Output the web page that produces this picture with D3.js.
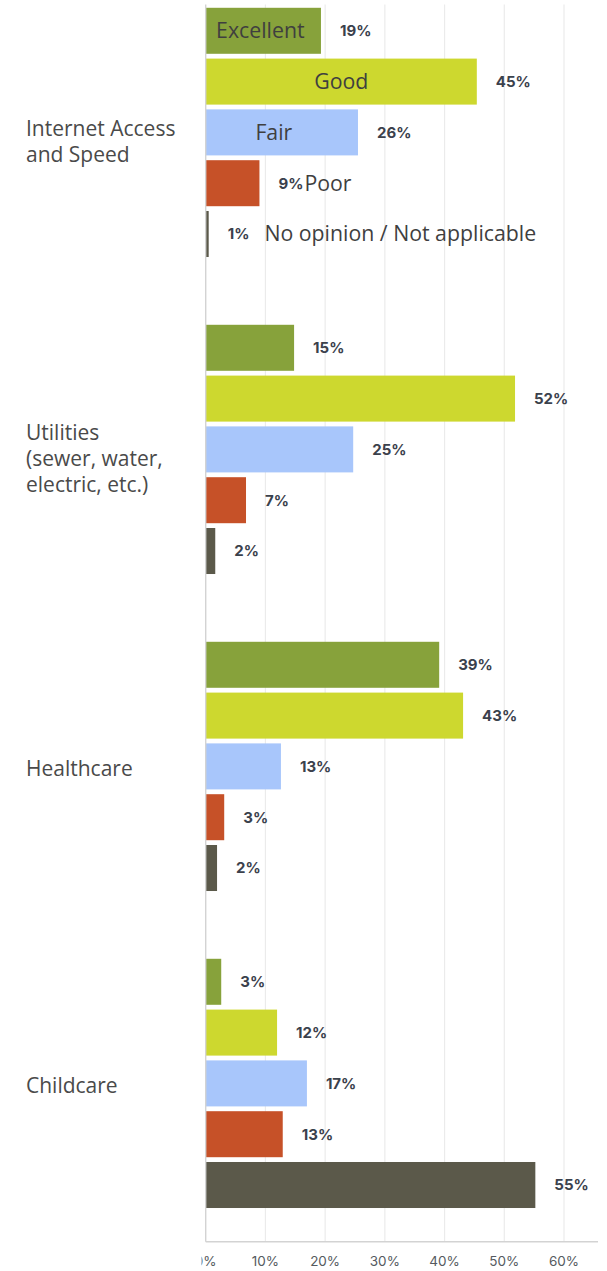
<!DOCTYPE html>
<html>
<head>
<meta charset="utf-8">
<script src="https://cdn.jsdelivr.net/npm/d3@7"></script>
<style>
  html, body { margin: 0; padding: 0; background: #ffffff; }
  svg { display: block; }
</style>
</head>
<body>
<div id="chart"></div>
<script>
// ---- data ----
const categories = ["Internet Access and Speed", "Utilities (sewer, water, electric, etc.)", "Healthcare", "Childcare"];
const categoryLines = [["Internet Access", "and Speed"], ["Utilities", "(sewer, water,", "electric, etc.)"], ["Healthcare"], ["Childcare"]];
const seriesNames = ["Excellent", "Good", "Fair", "Poor", "No opinion / Not applicable"];
const excellent = [19.3, 14.8, 39.1, 2.6];
const good = [45.4, 51.8, 43.1, 11.95];
const fair = [25.5, 24.7, 12.6, 16.95];
const poor = [9.0, 6.75, 3.1, 12.9];
const noOpinion = [0.5, 1.6, 1.9, 55.2];
const tickValues = [0, 10, 20, 30, 40, 50, 60];
const tickLabels = ["0%", "10%", "20%", "30%", "40%", "50%", "60%"];

// ---- styles ----
const seriesColors = ["#87a23b", "#cdd82f", "#a8c6fb", "#c65128", "#5b594a"];
const W = 607, H = 1271;
const plot = { left: 205.7, right: 598, top: 4.5, bottom: 1241.7 };

const seriesValues = [excellent, good, fair, poor, noOpinion];
const rows = [];
categories.forEach((c, ci) => {
  seriesNames.forEach((s, si) => rows.push({ cat: c, ci, series: s, si, value: seriesValues[si][ci] }));
});

const svg = d3.select("#chart").append("svg").attr("width", W).attr("height", H);

const x = d3.scaleLinear().domain([0, 60]).range([plot.left, 564]);
const y0 = d3.scaleBand().domain(categories).range([-26.1, 1241.9]).paddingInner(0).paddingOuter(0);
const y1 = d3.scaleBand().domain(seriesNames).range([0, y0.bandwidth()]).paddingInner(0.0945).paddingOuter(0.667);

// gridlines
svg.append("g").selectAll("line").data(tickValues.filter(t => t > 0)).join("line")
  .attr("x1", d => x(d)).attr("x2", d => x(d))
  .attr("y1", plot.top).attr("y2", plot.bottom)
  .attr("stroke", "#ebebeb").attr("stroke-width", 1.2);

// bars
svg.append("g").selectAll("rect").data(rows).join("rect")
  .attr("x", x(0))
  .attr("y", d => y0(d.cat) + y1(d.series))
  .attr("width", d => x(d.value) - x(0))
  .attr("height", y1.bandwidth())
  .attr("fill", d => seriesColors[d.si]);

// axis lines
svg.append("line").attr("x1", plot.left).attr("x2", plot.left).attr("y1", plot.top).attr("y2", plot.bottom)
  .attr("stroke", "#d3d3d3").attr("stroke-width", 1.4);
svg.append("line").attr("x1", plot.left).attr("x2", plot.right).attr("y1", plot.bottom).attr("y2", plot.bottom)
  .attr("stroke", "#d3d3d3").attr("stroke-width", 1.4);

// value labels
const valueLabels = svg.append("g").selectAll("text").data(rows).join("text")
  .attr("x", d => x(d.value) + 19)
  .attr("y", d => y0(d.cat) + y1(d.series) + y1.bandwidth() / 2)
  .attr("dy", "0.36em")
  .attr("font-family", "Inter, 'DejaVu Sans', sans-serif")
  .attr("font-weight", 700)
  .attr("font-size", 15)
  .attr("fill", "#3b414c")
  .text(d => Math.round(d.value) + "%");

// series name labels in first group
const firstCat = categories[0];
const seriesLabelGap = [0, 0, 0, 1, 15];
const valueNodes = valueLabels.nodes();
rows.filter(d => d.cat === firstCat).forEach((d, i) => {
  const t = svg.append("text")
    .attr("y", y0(d.cat) + y1(d.series) + y1.bandwidth() / 2)
    .attr("dy", "0.35em")
    .attr("font-family", "'Open Sans', sans-serif")
    .attr("font-size", 21.3)
    .attr("fill", "#3f3f3f")
    .text(d.series);
  const w = t.node().getComputedTextLength();
  const barW = x(d.value) - x(0);
  if (w + 10 < barW) {
    t.attr("text-anchor", "middle").attr("x", (x(0) + x(d.value)) / 2 - (i === 2 ? 8 : i === 0 ? 3 : 0));
  } else {
    const vn = valueNodes[i];
    const vx = +vn.getAttribute("x") + vn.getComputedTextLength();
    t.attr("text-anchor", "start").attr("x", vx + seriesLabelGap[i]);
  }
});

// category labels
categories.forEach((c, ci) => {
  const lines = categoryLines[ci];
  const n = lines.length;
  const center = y0(c) + y0.bandwidth() / 2;
  const first = center + 9.5 - (n - 1) * 13 + (n > 1 ? 7.5 : 0);
  const t = svg.append("text")
    .attr("x", 26)
    .attr("font-family", "'Open Sans', sans-serif")
    .attr("font-size", 21)
    .attr("fill", "#4a4a4a");
  lines.forEach((l, li) => {
    t.append("tspan").attr("x", 26).attr("y", first + li * 26).text(l);
  });
});

// x tick labels (clipped at left like the original)
svg.append("clipPath").attr("id", "tickclip").append("rect")
  .attr("x", 201.5).attr("y", 1245).attr("width", W - 201.5).attr("height", 30);
svg.append("g").attr("clip-path", "url(#tickclip)")
  .selectAll("text").data(tickValues).join("text")
  .attr("x", d => x(d))
  .attr("y", 1266.3)
  .attr("text-anchor", "middle")
  .attr("font-family", "Inter, 'DejaVu Sans', sans-serif")
  .attr("font-size", 13.5)
  .attr("fill", "#555a60")
  .text((d, i) => tickLabels[i]);
</script>
</body>
</html>
